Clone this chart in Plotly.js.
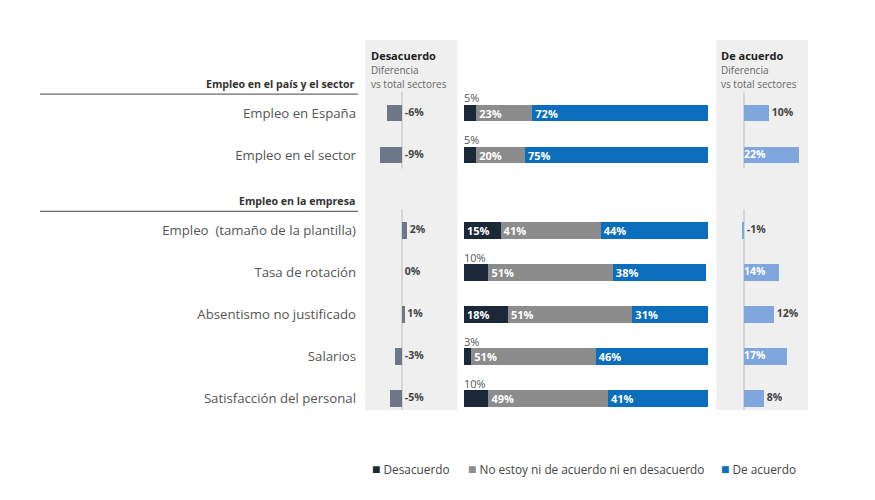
<!DOCTYPE html>
<html>
<head>
<meta charset="utf-8">
<script src="https://cdn.plot.ly/plotly-3.0.1.min.js"></script>
<style>html,body{margin:0;padding:0;background:#fff;}#chart{width:875px;height:500px;}</style>
</head>
<body>
<div id="chart"></div>
<script>
// ---------- DATA ----------
const groups = ["Empleo en el país y el sector", "Empleo en la empresa"];
const categories = [
  "Empleo en España", "Empleo en el sector",
  "Empleo  (tamaño de la plantilla)", "Tasa de rotación", "Absentismo no justificado", "Salarios", "Satisfacción del personal"
];
const categoryGroup = [0, 0, 1, 1, 1, 1, 1];
const desacuerdo = [5, 5, 15, 10, 18, 3, 10];
const neutral = [23, 20, 41, 51, 51, 51, 49];
const deAcuerdo = [72, 75, 44, 38, 31, 46, 41];
const diffDesacuerdo = [-6, -9, 2, 0, 1, -3, -5];
const diffDeAcuerdo = [10, 22, -1, 14, 12, 17, 8];
const seriesNames = ["Desacuerdo", "No estoy ni de acuerdo ni en desacuerdo", "De acuerdo"];
const panelTitles = ["Desacuerdo", "De acuerdo"];
const panelSub = ["Diferencia", "vs total sectores"];

// ---------- STYLE ----------
const C_DARK = "#1b2838", C_GRAY = "#8c8c8c", C_BLUE = "#0a6ebd";
const C_LEFT = "#6e7787", C_RIGHT = "#7fa6dd", C_PANEL = "#efefef";
const FONT = "Open Sans, Noto Sans, sans-serif";
const rightInside = [false, true, false, true, false, true, false];
const GAP = 0.79;      // extra space between groups (in row units)
const LABEL_PAD = 1.1; // gap (in % units) between bar end and its label

const ypos = categories.map((c, i) => i + categoryGroup[i] * GAP);
const fmt = v => v + "%";

const traces = [];
// Left panel
traces.push({type: "bar", orientation: "h", x: diffDesacuerdo, y: ypos, xaxis: "x", yaxis: "y",
  marker: {color: C_LEFT}, width: 0.4, showlegend: false, hoverinfo: "skip"});
traces.push({type: "scatter", mode: "text", x: diffDesacuerdo.map(v => Math.max(v, 0) + LABEL_PAD), y: ypos,
  xaxis: "x", yaxis: "y", text: diffDesacuerdo.map(fmt), textposition: "middle right",
  textfont: {family: FONT, size: 10.5, color: "#444", weight: 700}, showlegend: false, hoverinfo: "skip", cliponaxis: false});

// Middle stacked bars
const midVals = [desacuerdo, neutral, deAcuerdo];
const midCols = [C_DARK, C_GRAY, C_BLUE];
midVals.forEach((vals, k) => {
  traces.push({type: "bar", orientation: "h", x: vals, y: ypos, xaxis: "x2", yaxis: "y",
    name: seriesNames[k], marker: {color: midCols[k]}, width: 0.4, showlegend: false,
    text: vals.map(v => (k === 0 && v < 12) ? "" : fmt(v)),
    textposition: "inside", insidetextanchor: "start", constraintext: "none",
    textfont: {family: FONT, size: 11, color: "#fff", weight: 700}, hoverinfo: "skip"});
});
traces.push({type: "scatter", mode: "text", x: desacuerdo.map(v => 0), y: ypos.map(y => y - 0.32),
  xaxis: "x2", yaxis: "y", text: desacuerdo.map(v => v < 12 ? fmt(v) : ""), textposition: "middle right",
  textfont: {family: FONT, size: 11, color: "#555"}, showlegend: false, hoverinfo: "skip", cliponaxis: false});

// Right panel
traces.push({type: "bar", orientation: "h", x: diffDeAcuerdo, y: ypos, xaxis: "x3", yaxis: "y",
  marker: {color: C_RIGHT}, width: 0.4, showlegend: false, hoverinfo: "skip"});
traces.push({type: "scatter", mode: "text",
  x: diffDeAcuerdo.map((v, i) => rightInside[i] ? 0 : Math.max(v, 0) + LABEL_PAD), y: ypos,
  xaxis: "x3", yaxis: "y", text: diffDeAcuerdo.map(fmt), textposition: "middle right",
  textfont: {family: FONT, size: 10.5, weight: 700, color: rightInside.map(b => b ? "#fff" : "#444")},
  showlegend: false, hoverinfo: "skip", cliponaxis: false});

// ---------- LAYOUT ----------
const W = 875;
const yTop = -1.738, yBot = 7.07;
function pyToPaper(py) { return (410 - py) / 370; }
const shapes = [];
const annotations = [];
["x", "x3"].forEach(ax => {
  shapes.push({type: "rect", xref: ax + " domain", yref: "paper", x0: -0.02, x1: 1.0, y0: 0, y1: 1,
    fillcolor: C_PANEL, line: {width: 0}, layer: "below"});
});
groups.forEach((g, gi) => {
  const ys = ypos.filter((y, i) => categoryGroup[i] === gi);
  const first = Math.min(...ys), last = Math.max(...ys);
  ["x", "x3"].forEach(ax => {
    shapes.push({type: "line", xref: ax, yref: "y", x0: 0, x1: 0, y0: first - 0.5, y1: last + 0.32,
      line: {color: "#c4c4c4", width: 1.2}, layer: "below"});
  });
  shapes.push({type: "line", xref: "paper", yref: "y", x0: 40 / W, x1: 358 / W, y0: first - 0.45, y1: first - 0.45,
    line: {color: "#6a6a6a", width: 1.3}});
  annotations.push({xref: "paper", yref: "y", x: 357 / W, y: first - 0.69, text: "<b>" + g + "</b>",
    showarrow: false, xanchor: "right", yanchor: "middle", font: {family: FONT, size: 10.6, color: "#333"}});
});
[[369, 0], [719, 1]].forEach(([px, k]) => {
  annotations.push({xref: "paper", yref: "paper", x: px / W, y: pyToPaper(55), text: "<b>" + panelTitles[k] + "</b>",
    showarrow: false, xanchor: "left", yanchor: "middle", font: {family: FONT, size: 11, color: "#222"}});
  annotations.push({xref: "paper", yref: "paper", x: px / W, y: pyToPaper(70), text: panelSub[0],
    showarrow: false, xanchor: "left", yanchor: "middle", font: {family: FONT, size: 10, color: "#666"}});
  annotations.push({xref: "paper", yref: "paper", x: px / W, y: pyToPaper(84), text: panelSub[1],
    showarrow: false, xanchor: "left", yanchor: "middle", font: {family: FONT, size: 10, color: "#666"}});
});
const legX = [370, 466, 719];
seriesNames.forEach((n, k) => {
  annotations.push({xref: "paper", yref: "paper", x: legX[k] / W, y: pyToPaper(468),
    text: '<span style="color:' + midCols[k] + ';font-size:14px">■</span> ' + n,
    showarrow: false, xanchor: "left", yanchor: "middle", font: {family: FONT, size: 11.8, color: "#444"}});
});

const layout = {
  width: 875, height: 500,
  margin: {l: 0, r: 0, t: 40, b: 90},
  paper_bgcolor: "#fff", plot_bgcolor: "rgba(0,0,0,0)",
  barmode: "stack", bargap: 0,
  showlegend: false,
  font: {family: FONT, color: "#444"},
  xaxis: {domain: [367 / W, 457 / W], range: [-14, 22], showgrid: false, zeroline: false, showticklabels: false},
  xaxis2: {domain: [464 / W, 708 / W], range: [0, 100], showgrid: false, zeroline: false, showticklabels: false, anchor: "y"},
  xaxis3: {domain: [718 / W, 808 / W], range: [-10.4, 25.6], showgrid: false, zeroline: false, showticklabels: false, anchor: "y"},
  yaxis: {range: [yBot, yTop], tickvals: ypos, ticktext: categories, showgrid: false, zeroline: false,
    ticks: "", ticklabelstandoff: 10, tickfont: {family: FONT, size: 13.2, color: "#555"}, anchor: "x", showline: false},
  shapes: shapes,
  annotations: annotations
};

Plotly.newPlot("chart", traces, layout, {staticPlot: true, displayModeBar: false});
</script>
</body>
</html>
